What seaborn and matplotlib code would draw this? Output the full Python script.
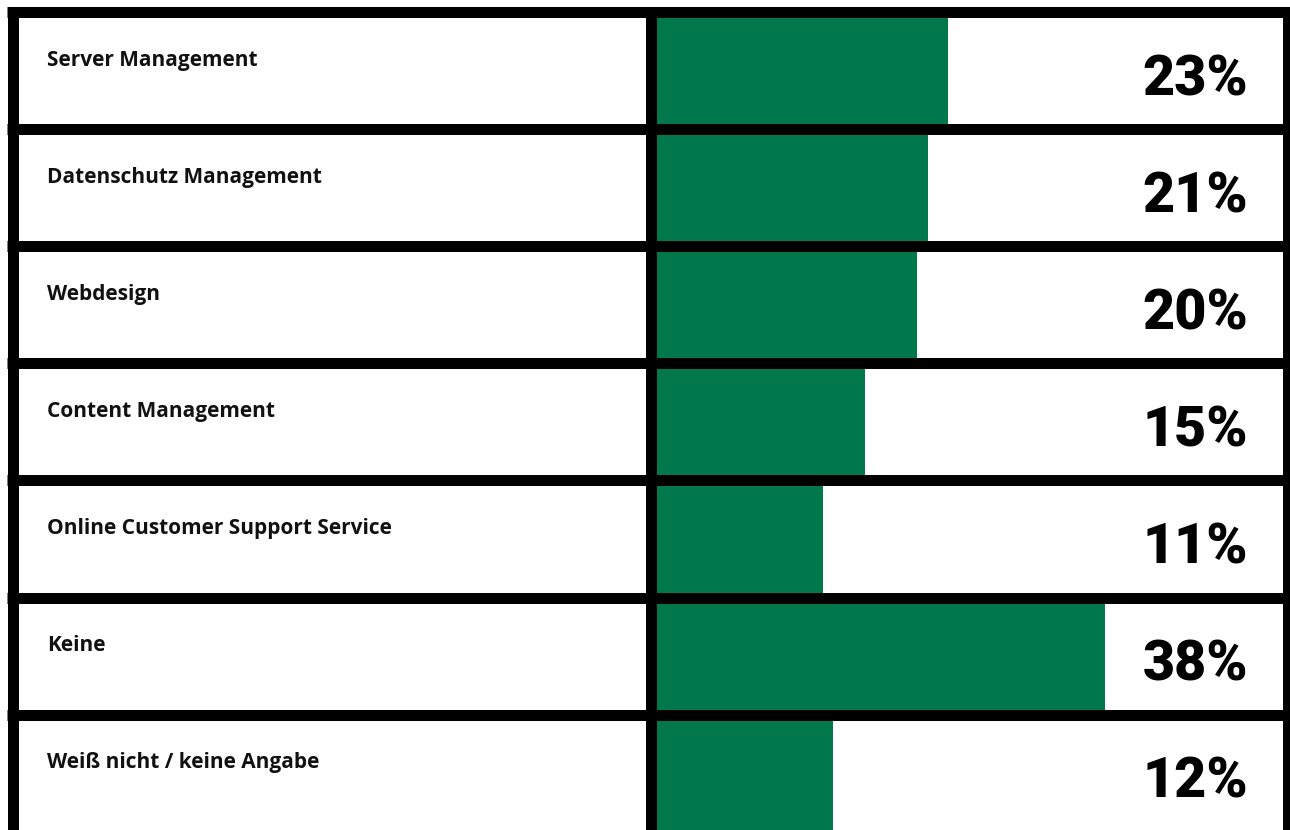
import matplotlib
matplotlib.use("Agg")
import matplotlib.pyplot as plt
import matplotlib.transforms as mtransforms
import seaborn as sns
import numpy as np
import pandas as pd

categories = [
    "Server Management",
    "Datenschutz Management",
    "Webdesign",
    "Content Management",
    "Online Customer Support Service",
    "Keine",
    "Weiß nicht / keine Angabe",
]
values = [23, 21, 20, 15, 11, 38, 12]
value_labels = ["23%", "21%", "20%", "15%", "11%", "38%", "12%"]

GREEN = "#00784B"
W, H = 1290, 830

sns.set_theme(style="white")
plt.rcParams["font.family"] = ["Roboto", "DejaVu Sans"]

fig = plt.figure(figsize=(W / 100, H / 100), dpi=100, facecolor="white")

# layout (pixels)
top_c = 12.5      # centre of top border
pitch = 117.0
n = len(categories)
bottom_c = top_c + pitch * n
bar_left, bar_right = 656, 1282
lw = 11 * 72 / 100
XMIN, XMAX = -4.98, 54.92   # value axis range (bars grow from the axis start)

ax = fig.add_axes([bar_left / W, 1 - bottom_c / H,
                   (bar_right - bar_left) / W, (bottom_c - top_c) / H])
df = pd.DataFrame({"cat": categories, "val": values})
sns.barplot(data=df, x="val", y="cat", orient="h", color=GREEN,
            saturation=1, width=1.0, linewidth=0, ax=ax)
# bars start at the left end of the value axis
for p in ax.patches:
    w = p.get_width()
    p.set_x(XMIN)
    p.set_width(w - XMIN)
ax.set_xlim(XMIN, XMAX)
ax.set_ylim(n - 0.5, -0.5)
ax.axis("off")

trans = mtransforms.blended_transform_factory(fig.transFigure, ax.transData)

# horizontal separators
for k in range(n + 1):
    ax.plot([7 / W, 1.01], [k - 0.5, k - 0.5], color="black", lw=lw,
            solid_capstyle="butt", transform=trans, clip_on=False, zorder=5)
# vertical borders
vtrans = mtransforms.blended_transform_factory(fig.transFigure, fig.transFigure)
for xc in (12.5, 650.5, 1287.5):
    ax.plot([xc / W, xc / W], [1 - 7 / H, -0.05], color="black", lw=lw,
            solid_capstyle="butt", transform=vtrans, clip_on=False, zorder=5)

for k, (lab, vl) in enumerate(zip(categories, value_labels)):
    ax.text(47 / W, k - 0.047, lab, transform=trans, ha="left", va="baseline",
            fontsize=15, fontweight="bold", color="#111111", zorder=6,
            family=["Open Sans", "DejaVu Sans"])
    ax.text(1248 / W, k + 0.207, vl, transform=trans, ha="right", va="baseline",
            fontsize=40, fontweight="black", color="black", zorder=6)

fig.savefig("out.png", dpi=100, facecolor="white")
